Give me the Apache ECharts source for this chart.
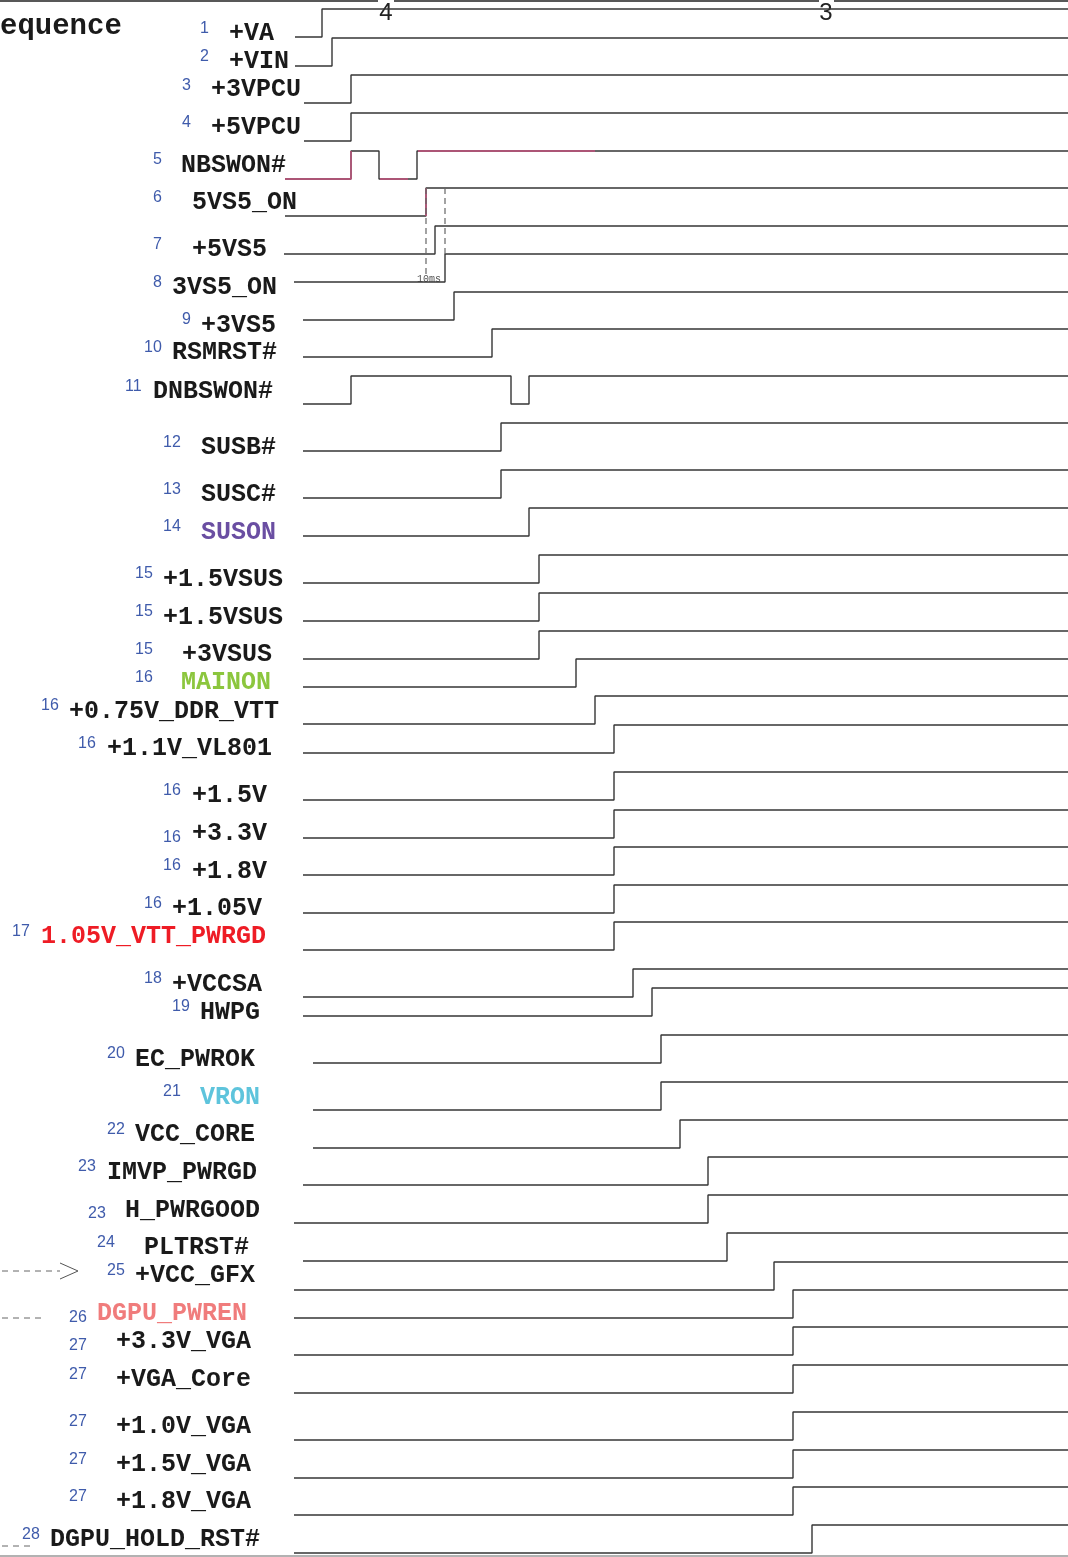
<!DOCTYPE html>
<html>
<head>
<meta charset="utf-8">
<script src="https://cdn.jsdelivr.net/npm/echarts@6/dist/echarts.min.js"></script>
<style>
  html, body { margin: 0; padding: 0; background: #fff; }
  #chart { width: 1068px; height: 1557px; }
</style>
</head>
<body>
<div id="chart"></div>
<script>
// signal names, in sequence order
const signals = ['+VA', '+VIN', '+3VPCU', '+5VPCU', 'NBSWON#', '5VS5_ON', '+5VS5', '3VS5_ON', '+3VS5', 'RSMRST#',
  'DNBSWON#', 'SUSB#', 'SUSC#', 'SUSON', '+1.5VSUS', '+1.5VSUS', '+3VSUS', 'MAINON', '+0.75V_DDR_VTT', '+1.1V_VL801',
  '+1.5V', '+3.3V', '+1.8V', '+1.05V', '1.05V_VTT_PWRGD', '+VCCSA', 'HWPG', 'EC_PWROK', 'VRON', 'VCC_CORE',
  'IMVP_PWRGD', 'H_PWRGOOD', 'PLTRST#', '+VCC_GFX', 'DGPU_PWREN', '+3.3V_VGA', '+VGA_Core', '+1.0V_VGA', '+1.5V_VGA',
  '+1.8V_VGA', 'DGPU_HOLD_RST#']
const seqNo = ['1', '2', '3', '4', '5', '6', '7', '8', '9', '10', '11', '12', '13', '14', '15', '15', '15', '16', '16', '16',
  '16', '16', '16', '16', '17', '18', '19', '20', '21', '22', '23', '23', '24', '25', '26', '27', '27', '27', '27', '27', '28']
// low level of each trace (vertical units)
const lowLevel = [37, 66, 103, 141, 179, 216, 254, 282, 320, 357, 404, 451, 498, 536, 583, 621, 659, 687, 724, 753,
  800, 838, 875, 913, 950, 997, 1016, 1063, 1110, 1148, 1185, 1223, 1261, 1290, 1318, 1355, 1393, 1440, 1478, 1515, 1553]
// where each trace begins
const startT = [295, 295, 304, 304, 285, 285, 284, 294, 303, 303, 303, 303, 303, 303, 303, 303, 303, 303, 303, 303,
  303, 303, 303, 303, 303, 303, 303, 313, 313, 313, 303, 294, 303, 294, 294, 294, 294, 294, 294, 294, 294]
// transition times (first edge rises, then alternates)
const edges = [[322], [332], [351], [351], [351, 379, 417], [426], [435], [445], [454], [492],
  [351, 511, 529], [501], [501], [529], [539], [539], [539], [576], [595], [614],
  [614], [614], [614], [614], [614], [633], [652], [661], [661], [680],
  [708], [708], [727], [774], [793], [793], [793], [793], [793], [793], [812]]
const endT = 1068
const topMarks = ['4', '3']
const topMarkT = [386, 826]
const stepHeight = 28

// label layout: [numX, numY, nameX, nameY]
const labelPos = [
  [200, 29, 229, 34], [200, 57, 229, 62], [182, 86, 211, 90], [182, 123, 211, 128], [153, 160, 181, 166],
  [153, 198, 192, 203], [153, 245, 192, 250], [153, 283, 172, 288], [182, 320, 201, 326], [144, 348, 172, 353],
  [125, 387, 153, 392], [163, 443, 201, 448], [163, 490, 201, 495], [163, 527, 201, 533], [135, 574, 163, 580],
  [135, 612, 163, 618], [135, 650, 182, 655], [135, 678, 181, 683], [41, 706, 69, 712], [78, 744, 107, 749],
  [163, 791, 192, 796], [163, 838, 192, 834], [163, 866, 192, 872], [144, 904, 172, 909], [12, 932, 41, 937],
  [144, 979, 172, 985], [172, 1007, 200, 1013], [107, 1054, 135, 1060], [163, 1092, 200, 1098], [107, 1130, 135, 1135],
  [78, 1167, 107, 1173], [88, 1214, 125, 1211], [97, 1243, 144, 1248], [107, 1271, 135, 1276], [69, 1318, 97, 1314],
  [69, 1346, 116, 1342], [69, 1375, 116, 1380], [69, 1422, 116, 1427], [69, 1460, 116, 1465], [69, 1497, 116, 1502],
  [22, 1535, 50, 1540]
]
const nameColors = { 'SUSON': '#6a4ea2', 'MAINON': '#8cc63e', '1.05V_VTT_PWRGD': '#ee1c25', 'VRON': '#5ec4dc', 'DGPU_PWREN': '#f07c7c' }

const traceColor = '#363636'
const pink = '#c4507c'

const buildTrace = (i) => {
  const low = lowLevel[i]
  const high = low - stepHeight
  let level = low
  const pts = [[startT[i], low]]
  edges[i].forEach(t => {
    pts.push([t, level])
    level = level === low ? high : low
    pts.push([t, level])
  })
  pts.push([endT, level])
  return pts
}

const chart = echarts.init(document.getElementById('chart'))

const series = signals.map((name, i) => ({
  name: name + '#' + i,
  type: 'line',
  data: buildTrace(i),
  symbol: 'none',
  silent: true,
  animation: false,
  lineStyle: { color: traceColor, width: 1.4 }
}))

// pink highlighted pieces on NBSWON# and 5VS5_ON
const nb = signals.indexOf('NBSWON#')
const nbE = edges[nb]
const nbLow = lowLevel[nb], nbHigh = nbLow - stepHeight
series.push({
  type: 'line', symbol: 'none', silent: true, animation: false, connectNulls: false,
  lineStyle: { color: pink, width: 1.4 },
  data: [[startT[nb], nbLow], [nbE[0], nbLow], [nbE[0], nbHigh], '-',
    [nbE[1] + 1, nbLow], [nbE[2] - 9, nbLow], '-',
    [nbE[2] + 1, nbHigh], [595, nbHigh]]
})
const s5 = signals.indexOf('5VS5_ON')
series.push({
  type: 'line', symbol: 'none', silent: true, animation: false,
  lineStyle: { color: pink, width: 1.4 },
  data: [[edges[s5][0], lowLevel[s5]], [edges[s5][0], lowLevel[s5] - stepHeight]]
})
// 10ms guide lines
const s3 = signals.indexOf('3VS5_ON')
series.push({
  type: 'line', symbol: 'none', silent: true, animation: false,
  lineStyle: { color: '#666', width: 1.2, type: [6, 4] },
  data: [[edges[s5][0], lowLevel[s5] - stepHeight], [edges[s5][0], lowLevel[s3] - 3], '-',
    [edges[s3][0], lowLevel[s5] - stepHeight], [edges[s3][0], lowLevel[s3] - stepHeight]]
})
// frame lines
series.push({
  type: 'line', symbol: 'none', silent: true, animation: false,
  lineStyle: { color: '#222', width: 1.4 },
  data: [[0, 1], [topMarkT[0] - 8, 1], '-', [topMarkT[0] + 8, 1], [topMarkT[1] - 7, 1], '-', [topMarkT[1] + 8, 1], [endT, 1]]
})
series.push({
  type: 'line', symbol: 'none', silent: true, animation: false,
  lineStyle: { color: '#666', width: 1.2 },
  data: [[0, 1556], [endT, 1556]]
})
// dashed leaders on the left
const gfx = signals.indexOf('+VCC_GFX')
const pwren = signals.indexOf('DGPU_PWREN')
series.push({
  type: 'line', symbol: 'none', silent: true, animation: false,
  lineStyle: { color: '#666', width: 1, type: [6, 5] },
  data: [[2, labelPos[gfx][1]], [60, labelPos[gfx][1]], '-', [2, labelPos[pwren][1]], [42, labelPos[pwren][1]], '-',
    [2, 1546], [30, 1546]]
})
series.push({
  type: 'line', symbol: 'none', silent: true, animation: false,
  lineStyle: { color: '#555', width: 1 },
  data: [[60, labelPos[gfx][1] - 8], [78, labelPos[gfx][1]], [60, labelPos[gfx][1] + 8]]
})

chart.setOption({
  animation: false,
  backgroundColor: '#fff',
  grid: { left: 0, right: 0, top: 0, bottom: 0 },
  xAxis: { type: 'value', min: 0, max: endT, show: false },
  yAxis: { type: 'value', min: 0, max: 1557, inverse: true, show: false },
  series
})

const px = (x, y) => chart.convertToPixel({ gridIndex: 0 }, [x, y])
const graphic = []
const text = (x, y, str, style) => {
  const p = px(x, y)
  graphic.push({ type: 'text', x: p[0], y: p[1], silent: true, style: Object.assign({ text: str, verticalAlign: 'middle', align: 'left' }, style) })
}

text(0, 27, 'equence', { fontFamily: 'Liberation Mono', fontWeight: 'bold', fontSize: 29, fill: '#1a1a1a' })
topMarks.forEach((m, i) => text(topMarkT[i], 13, m, { align: 'center', fontFamily: 'Liberation Sans', fontSize: 24, fill: '#222' }))
text(417, 279, '10ms', { fontFamily: 'Liberation Mono', fontSize: 10, fill: '#555' })

signals.forEach((name, i) => {
  const [nx, ny, lx, ly] = labelPos[i]
  text(nx, ny, seqNo[i], { fontFamily: 'Liberation Sans', fontSize: 16, fill: '#3f5bab' })
  text(lx, ly, name, { fontFamily: 'Liberation Mono', fontWeight: 'bold', fontSize: 25, fill: nameColors[name] || '#1a1a1a' })
})

chart.setOption({ graphic })
</script>
</body>
</html>
